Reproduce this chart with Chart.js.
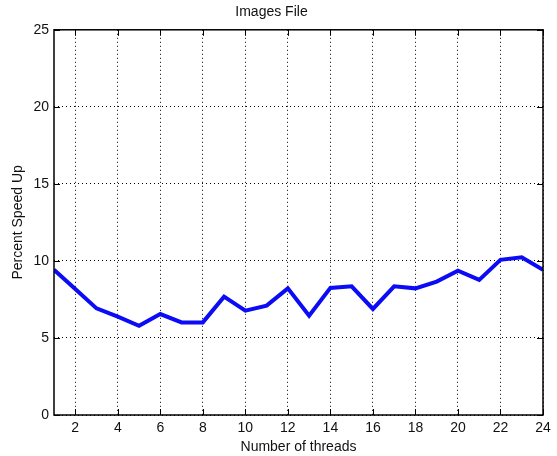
<!DOCTYPE html>
<html>
<head>
<meta charset="utf-8">
<script src="https://cdn.jsdelivr.net/npm/chart.js@4"></script>
<style>
  html, body { margin: 0; padding: 0; background: #fff; }
  #wrap { width: 557px; height: 456px; }
</style>
</head>
<body>
<div id="wrap"><canvas id="chart" width="557" height="456"></canvas></div>
<script>
  const threads = [1, 2, 3, 4, 5, 6, 7, 8, 9, 10, 11, 12, 13, 14, 15, 16, 17, 18, 19, 20, 21, 22, 23, 24];
  const speedUp = [9.42, 8.18, 6.92, 6.38, 5.79, 6.55, 6.01, 6.01, 7.68, 6.77, 7.1, 8.22,
                   6.45, 8.25, 8.35, 6.88, 8.35, 8.22, 8.66, 9.37, 8.77, 10.07, 10.24, 9.42];
  const xTicks = [2, 4, 6, 8, 10, 12, 14, 16, 18, 20, 22, 24];
  const yTicks = [0, 5, 10, 15, 20, 25];

  const FONT = "'Liberation Sans', Arial, sans-serif";
  const TICK_LEN = 6;

  // matlab-style box with inward ticks on all four sides
  const boxPlugin = {
    id: "box",
    afterDraw(chart) {
      const { ctx, chartArea: a, scales } = chart;
      ctx.save();
      ctx.strokeStyle = "#000";
      ctx.lineWidth = 1;
      ctx.beginPath();
      scales.x.ticks.forEach((t) => {
        const px = Math.round(scales.x.getPixelForValue(t.value)) + 0.5;
        ctx.moveTo(px, a.bottom); ctx.lineTo(px, a.bottom - TICK_LEN);
        ctx.moveTo(px, a.top); ctx.lineTo(px, a.top + TICK_LEN);
      });
      scales.y.ticks.forEach((t) => {
        const py = Math.round(scales.y.getPixelForValue(t.value)) + 0.5;
        ctx.moveTo(a.left, py); ctx.lineTo(a.left + TICK_LEN, py);
        ctx.moveTo(a.right, py); ctx.lineTo(a.right - TICK_LEN, py);
      });
      ctx.stroke();
      ctx.lineWidth = 1.5;
      ctx.strokeRect(a.left, a.top, a.right - a.left, a.bottom - a.top);
      ctx.restore();
    },
  };

  new Chart(document.getElementById("chart"), {
    type: "line",
    data: {
      labels: threads,
      datasets: [{
        data: threads.map((t, i) => ({ x: t, y: speedUp[i] })),
        borderColor: "#0b0bf5",
        borderWidth: 4,
        pointRadius: 0,
        tension: 0,
        fill: false,
      }],
    },
    options: {
      responsive: false,
      animation: false,
      layout: { padding: { top: 0, right: 14, left: 0, bottom: 0 } },
      plugins: {
        legend: { display: false },
        tooltip: { enabled: false },
        title: {
          display: true,
          text: "Images File",
          color: "#111",
          font: { family: FONT, size: 14, weight: "normal" },
          padding: { top: 4, bottom: 9 },
        },
      },
      scales: {
        x: {
          type: "linear",
          min: 1,
          max: 24,
          afterBuildTicks: (s) => { s.ticks = xTicks.map((v) => ({ value: v })); },
          afterFit: (s) => { s.height = 41; },
          ticks: {
            color: "#111",
            font: { family: FONT, size: 14 },
            padding: 5,
            maxRotation: 0,
            autoSkip: false,
          },
          grid: { color: "#000", lineWidth: 1, drawTicks: false },
          border: { display: false, dash: [1, 3] },
          title: {
            display: true,
            text: "Number of threads",
            color: "#111",
            font: { family: FONT, size: 14 },
            padding: { top: 0, bottom: 0 },
          },
        },
        y: {
          min: 0,
          max: 25,
          afterBuildTicks: (s) => { s.ticks = yTicks.map((v) => ({ value: v })); },
          afterFit: (s) => { s.width = 54; },
          ticks: {
            color: "#111",
            font: { family: FONT, size: 14 },
            padding: 5,
          },
          grid: { color: "#000", lineWidth: 1, drawTicks: false },
          border: { display: false, dash: [1, 3] },
          title: {
            display: true,
            text: "Percent Speed Up",
            color: "#111",
            font: { family: FONT, size: 14 },
            padding: { top: 10, bottom: 2 },
          },
        },
      },
    },
    plugins: [boxPlugin],
  });
</script>
</body>
</html>
